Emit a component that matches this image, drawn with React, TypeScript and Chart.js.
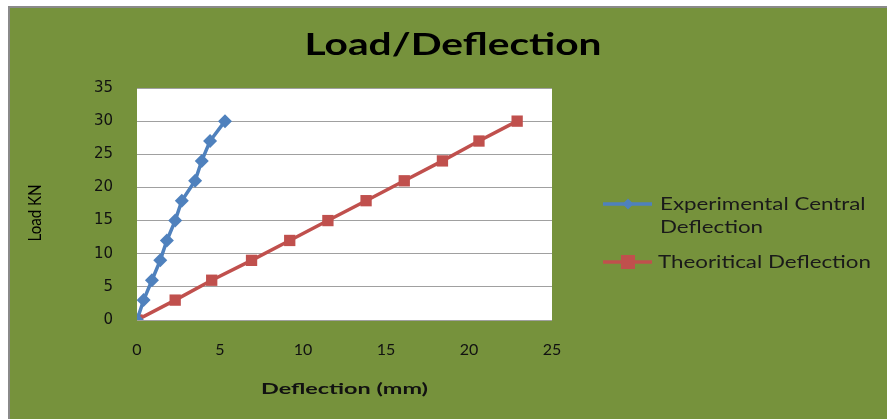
import React, { useEffect, useRef } from "react";
import { Chart, registerables } from "chart.js";

Chart.register(...registerables);

const loads = [0, 3, 6, 9, 12, 15, 18, 21, 24, 27, 30];
const experimentalDeflection = [0, 0.4, 0.9, 1.4, 1.8, 2.3, 2.7, 3.5, 3.9, 4.4, 5.3];
const theoreticalDeflection = [0, 2.3, 4.5, 6.9, 9.2, 11.5, 13.8, 16.1, 18.4, 20.6, 22.9];
const seriesLabels = ["Experimental Central Deflection", "Theoritical Deflection"];
const legendLines = [["Experimental Central", "Deflection"], ["Theoritical Deflection"]];
const chartTitle = "Load/Deflection";
const xTitle = "Deflection (mm)";
const yTitle = "Load KN";

const GREEN = "#76923C";
const BLUE = "#4F81BD";
const RED = "#C0504D";

function fillStretched(ctx: CanvasRenderingContext2D, text: string, x: number, y: number, sx: number, align: CanvasTextAlign) {
  ctx.save();
  ctx.translate(x, y);
  ctx.scale(sx, 1);
  ctx.textAlign = align;
  ctx.fillText(text, 0, 0);
  ctx.restore();
}

const plotBg = {
  id: "plotBg",
  beforeDraw(chart: any) {
    const { ctx, chartArea } = chart;
    ctx.save();
    ctx.fillStyle = "#ffffff";
    ctx.fillRect(chartArea.left, chartArea.top, chartArea.right - chartArea.left, chartArea.bottom - chartArea.top);
    ctx.restore();
  },
};

const texts = {
  id: "texts",
  afterDraw(chart: any) {
    const ctx: CanvasRenderingContext2D = chart.ctx;
    const { chartArea } = chart;
    ctx.save();
    // title
    ctx.fillStyle = "#000";
    ctx.font = "bold 30px Lato";
    ctx.textBaseline = "alphabetic";
    const tw = ctx.measureText(chartTitle).width;
    fillStretched(ctx, chartTitle, 443, 47, 297 / tw, "center");
    // x title
    ctx.fillStyle = "#111";
    ctx.font = "bold 15px Lato";
    ctx.textBaseline = "middle";
    const xw = ctx.measureText(xTitle).width;
    fillStretched(ctx, xTitle, (chartArea.left + chartArea.right) / 2, 381, 167 / xw, "center");
    // y title (rotated)
    ctx.save();
    ctx.translate(26, (chartArea.top + chartArea.bottom) / 2 + 9);
    ctx.rotate(-Math.PI / 2);
    ctx.font = "17px Lato";
    ctx.fillStyle = "#000";
    ctx.textBaseline = "middle";
    const yw = ctx.measureText(yTitle).width;
    fillStretched(ctx, yTitle, 0, 0, 57 / yw, "center");
    ctx.restore();

    // legend
    const items = [
      { color: BLUE, style: "rectRot", y: 196, x: 650, lines: legendLines[0] },
      { color: RED, style: "rect", y: 254, x: 648, lines: legendLines[1] },
    ];
    ctx.font = "17px Lato";
    const lw = ctx.measureText(legendLines[1][0]).width;
    const lsx = 213 / lw;
    items.forEach((it) => {
      ctx.strokeStyle = it.color;
      ctx.lineWidth = 3.5;
      ctx.beginPath();
      ctx.moveTo(593, it.y);
      ctx.lineTo(642, it.y);
      ctx.stroke();
      ctx.fillStyle = it.color;
      if (it.style === "rect") {
        ctx.fillRect(611, it.y - 7, 14, 14);
      } else {
        ctx.beginPath();
        ctx.moveTo(618, it.y - 5.5);
        ctx.lineTo(623.5, it.y);
        ctx.lineTo(618, it.y + 5.5);
        ctx.lineTo(612.5, it.y);
        ctx.closePath();
        ctx.fill();
      }
      ctx.fillStyle = "#1a1a1a";
      ctx.textBaseline = "middle";
      it.lines.forEach((ln: string, j: number) => {
        fillStretched(ctx, ln, it.x, it.y + 1 + j * 23, lsx, "left");
      });
    });
    ctx.restore();
  },
};

function App() {
  const ref = useRef<HTMLCanvasElement | null>(null);
  useEffect(() => {
    if (!ref.current) return;
    const chart = new Chart(ref.current, {
      type: "line",
      data: {
        datasets: [
          {
            label: seriesLabels[0],
            data: loads.map((y, i) => ({ x: experimentalDeflection[i], y })),
            borderColor: BLUE,
            backgroundColor: BLUE,
            borderWidth: 3.5,
            pointStyle: "rectRot",
            pointRadius: 7,
            pointBorderWidth: 0,
            tension: 0,
          },
          {
            label: seriesLabels[1],
            data: loads.map((y, i) => ({ x: theoreticalDeflection[i], y })),
            borderColor: RED,
            backgroundColor: RED,
            borderWidth: 3.5,
            pointStyle: "rect",
            pointRadius: 8,
            pointBorderWidth: 0,
            tension: 0,
          },
        ],
      },
      options: {
        animation: false,
        responsive: false,
        devicePixelRatio: 1,
        layout: { padding: { left: 0, right: 335, top: 80, bottom: 0 } },
        plugins: {
          legend: { display: false },
          tooltip: { enabled: false },
          title: { display: false },
        },
        scales: {
          x: {
            type: "linear",
            min: 0,
            max: 25,
            afterFit: (s: any) => { s.height = 99; },
            ticks: { stepSize: 5, color: "#111", padding: 20, font: { family: "Lato", size: 16 } },
            grid: { display: false, drawTicks: false },
            border: { display: false },
            title: { display: false },
          },
          y: {
            type: "linear",
            min: 0,
            max: 35,
            afterFit: (s: any) => { s.width = 127; },
            ticks: { stepSize: 5, color: "#111", padding: 24, font: { family: "DejaVu Sans", size: 15 } },
            grid: { color: "#a0a0a0", lineWidth: 1, drawTicks: false },
            border: { display: false },
            title: { display: false },
          },
        },
      },
      plugins: [plotBg, texts],
    });
    return () => chart.destroy();
  }, []);
  return (
    <div
      style={{
        position: "absolute",
        left: 8,
        top: 6,
        width: 879,
        height: 413,
        boxSizing: "border-box",
        borderLeft: "2px solid #8a8a8a",
        borderTop: "2px solid #8a8a8a",
        background: GREEN,
      }}
    >
      <canvas ref={ref} width={877} height={411} style={{ display: "block", width: 877, height: 411 }} />
    </div>
  );
}

export default App;
